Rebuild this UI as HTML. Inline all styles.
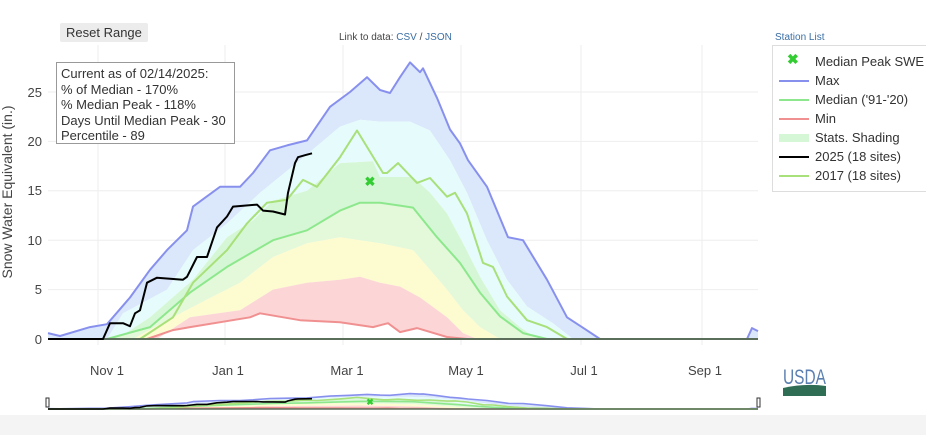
<!DOCTYPE html><html><head><style>
body{margin:0;width:926px;height:435px;background:#fff;font-family:"Liberation Sans",sans-serif;overflow:hidden;position:relative}
.t{position:absolute;white-space:nowrap}
</style></head><body>
<div class="t" style="left:60px;top:23px;background:#ececec;padding:2px 6px;font-size:13px;color:#333;border-radius:2px">Reset Range</div>
<div class="t" style="left:339px;top:32px;font-size:10px;color:#444">Link to data: <span style="color:#3a6ea5">CSV</span> / <span style="color:#3a6ea5">JSON</span></div>
<div class="t" style="left:775px;top:32px;font-size:10px;color:#3a6ea5">Station List</div>
<div style="position:absolute;left:0;top:415px;width:926px;height:20px;background:#f4f4f4"></div>
<svg width="926" height="435" style="position:absolute;left:0;top:0" id="s">
<g stroke="#eee" stroke-width="1">
<line x1="98" y1="45" x2="98" y2="345"/><line x1="225" y1="45" x2="225" y2="345"/><line x1="343" y1="45" x2="343" y2="345"/><line x1="461" y1="45" x2="461" y2="345"/><line x1="581" y1="45" x2="581" y2="345"/><line x1="702" y1="45" x2="702" y2="345"/>
<line x1="48" y1="92" x2="758" y2="92"/><line x1="48" y1="141.4" x2="758" y2="141.4"/><line x1="48" y1="190.8" x2="758" y2="190.8"/><line x1="48" y1="240.2" x2="758" y2="240.2"/><line x1="48" y1="289.6" x2="758" y2="289.6"/>
</g>
<g id="g"></g>
<g font-size="13" fill="#444" text-anchor="end">
<text x="42" y="97">25</text><text x="42" y="146">20</text><text x="42" y="195">15</text><text x="42" y="245">10</text><text x="42" y="294">5</text><text x="42" y="344">0</text></g>
<g font-size="13" fill="#444" text-anchor="middle">
<text x="107" y="375">Nov 1</text><text x="228" y="375">Jan 1</text><text x="347" y="375">Mar 1</text><text x="466" y="375">May 1</text><text x="584" y="375">Jul 1</text><text x="705" y="375">Sep 1</text></g>
<text transform="translate(12,192) rotate(-90)" font-size="14" fill="#444" text-anchor="middle">Snow Water Equivalent (in.)</text>
<rect x="56.5" y="62.5" width="178" height="81" fill="#fff" stroke="#999"/>
<g font-size="13" fill="#333"><text x="61" y="78">Current as of 02/14/2025:</text><text x="61" y="94">% of Median - 170%</text><text x="61" y="109">% Median Peak - 118%</text><text x="61" y="125">Days Until Median Peak - 30</text><text x="61" y="140">Percentile - 89</text></g>
<rect x="772.5" y="45.5" width="160" height="146" fill="#fff" stroke="#ddd"/>
<g font-size="13" fill="#333">
<text x="787" y="64" fill="#3c3" font-weight="bold" font-size="14">✖</text><text x="815" y="66">Median Peak SWE</text>
<line x1="779" y1="81" x2="809" y2="81" stroke="#8890ee" stroke-width="2"/><text x="815" y="85">Max</text>
<line x1="779" y1="100" x2="809" y2="100" stroke="#8de88d" stroke-width="2"/><text x="815" y="104">Median ('91-'20)</text>
<line x1="779" y1="119" x2="809" y2="119" stroke="#f09090" stroke-width="2"/><text x="815" y="123">Min</text>
<rect x="779" y="134" width="30" height="8" fill="#d6f7d6"/><text x="815" y="142">Stats. Shading</text>
<line x1="779" y1="157" x2="809" y2="157" stroke="#000" stroke-width="2"/><text x="815" y="161">2025 (18 sites)</text>
<line x1="779" y1="176" x2="809" y2="176" stroke="#a8e07a" stroke-width="2"/><text x="815" y="180">2017 (18 sites)</text></g>
<text x="783" y="384" font-size="21" fill="#5a7fb0" font-family="Liberation Sans Narrow,Liberation Sans,sans-serif" textLength="43" lengthAdjust="spacingAndGlyphs">USDA</text>
<path d="M783 388 Q805 383 826 386 L826 396 L783 396Z" fill="#2f6e55"/>
<rect x="46" y="398" width="3" height="9" fill="#fff" stroke="#333"/><rect x="757" y="398" width="3" height="9" fill="#fff" stroke="#333"/>
<g id="mini"></g>
</svg>
<script>
var Y=v=>339-v*9.88;
var S={
max:[[48,.6],[60,.3],[90,1.2],[107,1.5],[130,4.2],[150,7],[167,9],[187,11],[193,13.4],[220,15.4],[240,15.4],[253,16.8],[270,19.1],[287,19.6],[307,20.1],[330,23.5],[350,25],[367,26.5],[380,25.2],[390,24.9],[400,26.5],[410,28],[420,27],[423,27.4],[437,24.4],[450,21.2],[460,19.8],[468,18.1],[487,15.4],[508,10.3],[523,10],[547,6],[567,2.2],[585,1],[600,0],[747,0],[752,1.1],[758,.8]],
p90:[[48,0],[107,0],[123,2.6],[167,5],[193,9],[227,11.7],[260,14.8],[300,18.1],[340,21.5],[360,22.2],[380,22],[410,22],[430,21.1],[450,18.1],[467,14.8],[487,10],[507,6],[527,3.3],[553,1.6],[573,0],[758,0]],
p75:[[48,0],[117,0],[150,2.2],[193,6],[227,10.3],[253,12],[273,14],[307,15],[340,17.8],[373,18],[380,16.4],[413,16.4],[430,14.8],[447,12.7],[463,9.7],[480,6.3],[500,2.9],[520,1.2],[537,0],[758,0]],
med:[[48,0],[107,0],[150,1.2],[190,4.7],[227,7.3],[273,10],[307,11],[340,13],[360,13.8],[380,13.8],[400,13.5],[413,13.3],[437,10.3],[460,7.7],[480,4.7],[500,2.3],[523,.6],[547,0],[758,0]],
p25:[[48,0],[133,0],[173,2.2],[207,4],[240,5.7],[273,8.3],[307,9.7],[340,10.3],[380,9.7],[413,9],[430,7],[447,5],[463,2.9],[480,1.2],[500,0],[758,0]],
p10:[[48,0],[157,0],[190,2.2],[240,2.9],[273,5],[307,5.7],[340,6],[360,6.3],[380,5.7],[400,5.3],[420,4.2],[447,2.2],[463,.6],[477,0],[758,0]],
min:[[48,0],[147,0],[173,.9],[190,1.2],[250,2.2],[260,2.6],[300,1.9],[340,1.7],[373,1.2],[388,1.6],[400,.7],[417,1.1],[447,.2],[467,0],[758,0]],
y17:[[48,0],[140,0],[173,2.2],[193,5.7],[227,9],[247,11.7],[267,13.8],[287,14.1],[303,16.1],[317,15.4],[340,18.4],[357,21.1],[383,16.8],[387,16.8],[398,17.8],[417,15.8],[430,16.3],[447,14.4],[455,14.8],[467,12.7],[483,7.7],[493,7.3],[507,4.3],[527,1.9],[547,1.2],[567,0],[758,0]],
y25:[[48,0],[103,0],[110,1.6],[123,1.6],[130,1.3],[135,2.6],[140,2.9],[147,5.7],[157,6.2],[183,6],[187,6.3],[197,8.3],[207,8.3],[217,11.3],[227,12.4],[233,13.4],[257,13.6],[263,13],[273,12.9],[285,12.6],[288,14.8],[295,17.8],[298,18.4],[305,18.6],[312,18.8]]};
function pts(a,f){return a.map(p=>p[0]+','+f(p[1]).toFixed(1)).join(' ')}
function band(a,b,c,f){return '<polygon points="'+pts(a,f)+' '+pts(b.slice().reverse(),f)+'" fill="'+c+'"/>'}
function line(a,c,w,f){return '<polyline points="'+pts(a,f)+'" fill="none" stroke="'+c+'" stroke-width="'+w+'" stroke-linejoin="round"/>'}
function draw(f,m){var h='';
h+=band(S.max,S.p90,'#dbe7fb',f)+band(S.p90,S.p75,'#e6fbfb',f)+band(S.p75,S.med,'#d6f7d6',f)+band(S.med,S.p25,'#e4f8da',f)+band(S.p25,S.p10,'#fdfbd0',f)+band(S.p10,S.min,'#fcd6d6',f);
h+=line(S.max,'#8890ee',2*m,f)+line(S.min,'#f09090',2*m,f)+line(S.med,'#8de88d',2*m,f)+line(S.y17,'#a8e07a',2*m,f)+line([[48,0],[758,0]],'#5a6e5a',2*m,f)+line(S.y25,'#000',2*m,f);return h}
document.getElementById('g').innerHTML=draw(Y,1)+'<text x="370" y="186" text-anchor="middle" font-size="13" font-weight="bold" fill="#3c3">✖</text>';
document.getElementById('mini').innerHTML=draw(v=>409-v*0.55,.8)+'<text x="370" y="405" text-anchor="middle" font-size="9" font-weight="bold" fill="#3c3">✖</text>';
</script>
</body></html>
